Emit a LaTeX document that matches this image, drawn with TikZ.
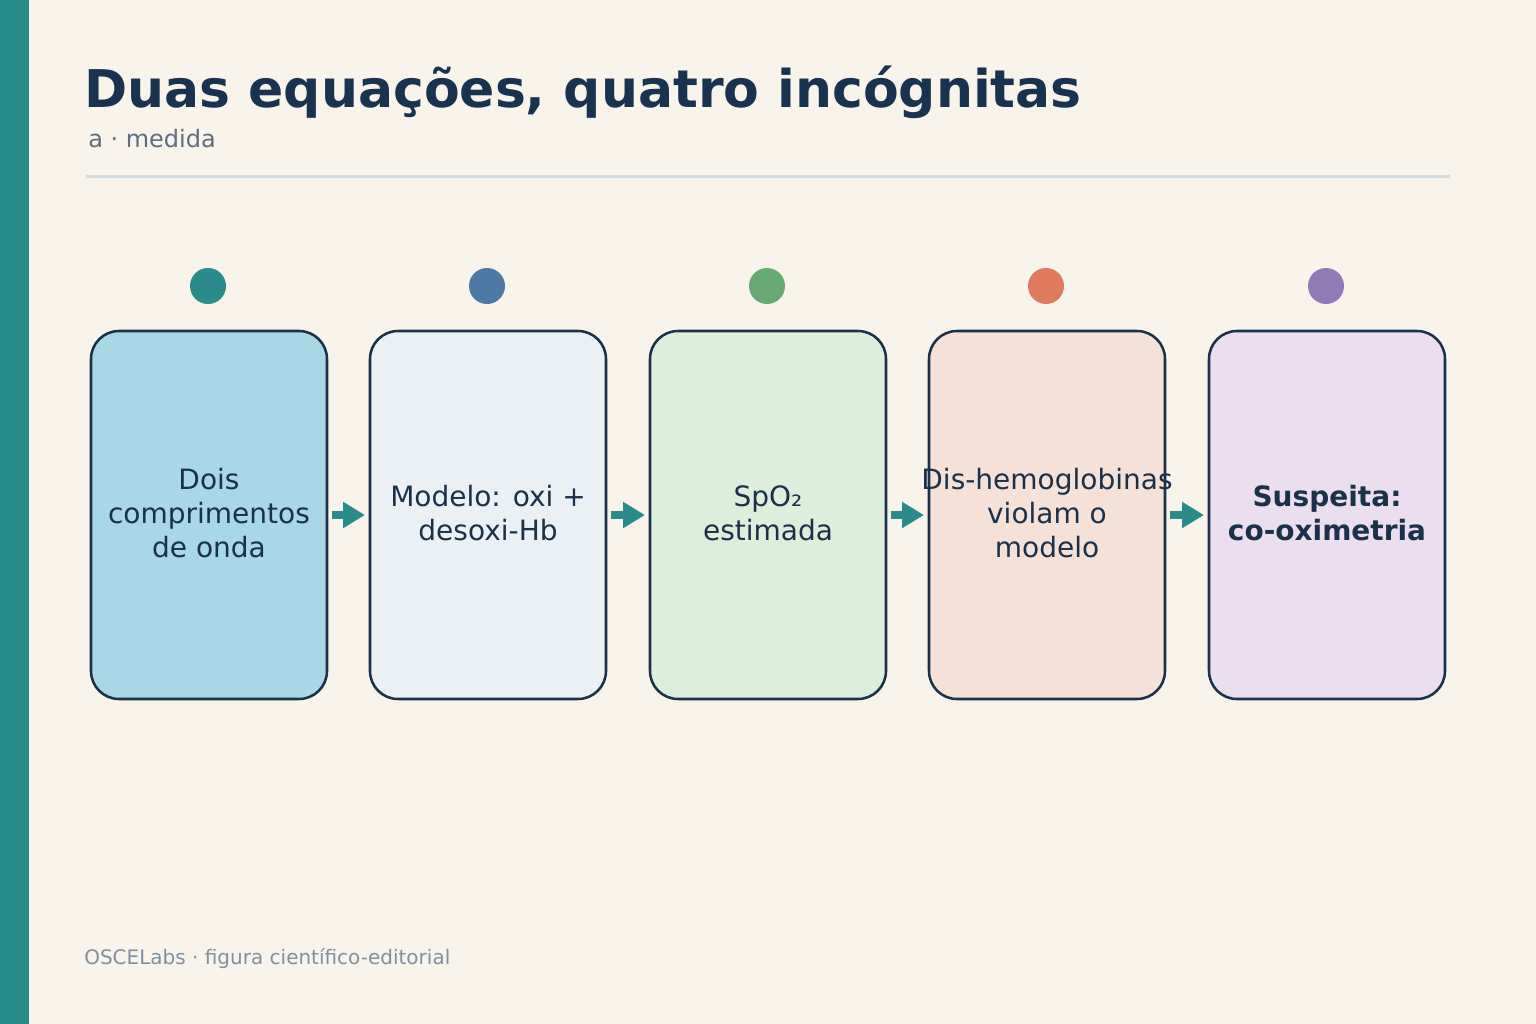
\documentclass[tikz,border=0pt]{standalone}
\usepackage{fontspec}
\setmainfont{DejaVu Sans}
\usetikzlibrary{arrows.meta}
\definecolor{bg}{HTML}{F8F4EC}
\definecolor{teal}{HTML}{2A8C8A}
\definecolor{navy}{HTML}{1B3049}
\definecolor{titlec}{HTML}{18324F}
\definecolor{subc}{HTML}{5E6E7E}
\definecolor{footc}{HTML}{8090A0}
\definecolor{rulec}{HTML}{D0DCE0}
\definecolor{fa}{HTML}{A9D7E6}
\definecolor{fb}{HTML}{EBF0F4}
\definecolor{fc}{HTML}{DEEEDC}
\definecolor{fd}{HTML}{F5E1D8}
\definecolor{fe}{HTML}{EADEEF}
\definecolor{da}{HTML}{2A8C8A}
\definecolor{db}{HTML}{4E78A6}
\definecolor{dc}{HTML}{67A873}
\definecolor{dd}{HTML}{E07A5F}
\definecolor{de}{HTML}{917BB5}
\begin{document}
\begin{tikzpicture}[x=0.75pt,y=-0.75pt,
  stagebox/.style={draw=navy,line width=1.9pt,rounded corners=21pt,minimum width=177pt,minimum height=276pt,inner sep=0pt,outer sep=0pt},
  stagetext/.style={align=center,text=navy,font=\fontsize{21pt}{25.5pt}\selectfont},
  dot/.style={circle,minimum size=27pt,inner sep=0pt,outer sep=0pt},
  arr/.style={draw=teal,line width=6pt,-{Triangle[length=16.5pt,width=18.75pt]},shorten <=3.75pt,shorten >=3.75pt}]
\useasboundingbox (0,0) rectangle (1536,1024);
\fill[bg] (0,0) rectangle (1536,1024);
\fill[teal] (0,0) rectangle (29,1024);
\node[anchor=base west,inner sep=0pt,text=titlec,font=\fontsize{39pt}{46pt}\selectfont\bfseries] (title) at (84,108) {Duas equações, quatro incógnitas};
\node[anchor=base west,inner sep=0pt,text=subc,font=\fontsize{18pt}{21pt}\selectfont] (sub) at (88,147) {a · medida};
\draw[rulec,line width=2.25pt] (86,176) -- (1450,176);
\foreach \i/\x/\f/\d in {1/209/fa/da,2/488/fb/db,3/768/fc/dc,4/1047/fd/dd,5/1327/fe/de}{
  \node[stagebox,fill=\f] (b\i) at (\x,515) {};
  \node[dot,fill=\d] (d\i) at (\x-1,286) {};
}
\node[stagetext] (t1) at ([yshift=1.5pt]b1.center) {Dois\\comprimentos\\de onda};
\node[stagetext] (t2) at ([yshift=1.5pt]b2.center) {Modelo: oxi +\\desoxi-Hb};
\node[stagetext] (t3) at ([yshift=1.5pt]b3.center) {SpO₂\\estimada};
\node[stagetext] (t4) at ([yshift=1.5pt]b4.center) {Dis-hemoglobinas\\violam o\\modelo};
\node[stagetext,font=\fontsize{21pt}{25.5pt}\selectfont\bfseries] (t5) at ([yshift=1.5pt]b5.center) {Suspeita:\\co-oximetria};
\draw[arr] (b1.east) -- (b2.west);
\draw[arr] (b2.east) -- (b3.west);
\draw[arr] (b3.east) -- (b4.west);
\draw[arr] (b4.east) -- (b5.west);
\node[anchor=base west,inner sep=0pt,text=footc,font=\fontsize{15pt}{18pt}\selectfont] (foot) at (84,964) {OSCELabs · figura científico-editorial};
\end{tikzpicture}
\end{document}
